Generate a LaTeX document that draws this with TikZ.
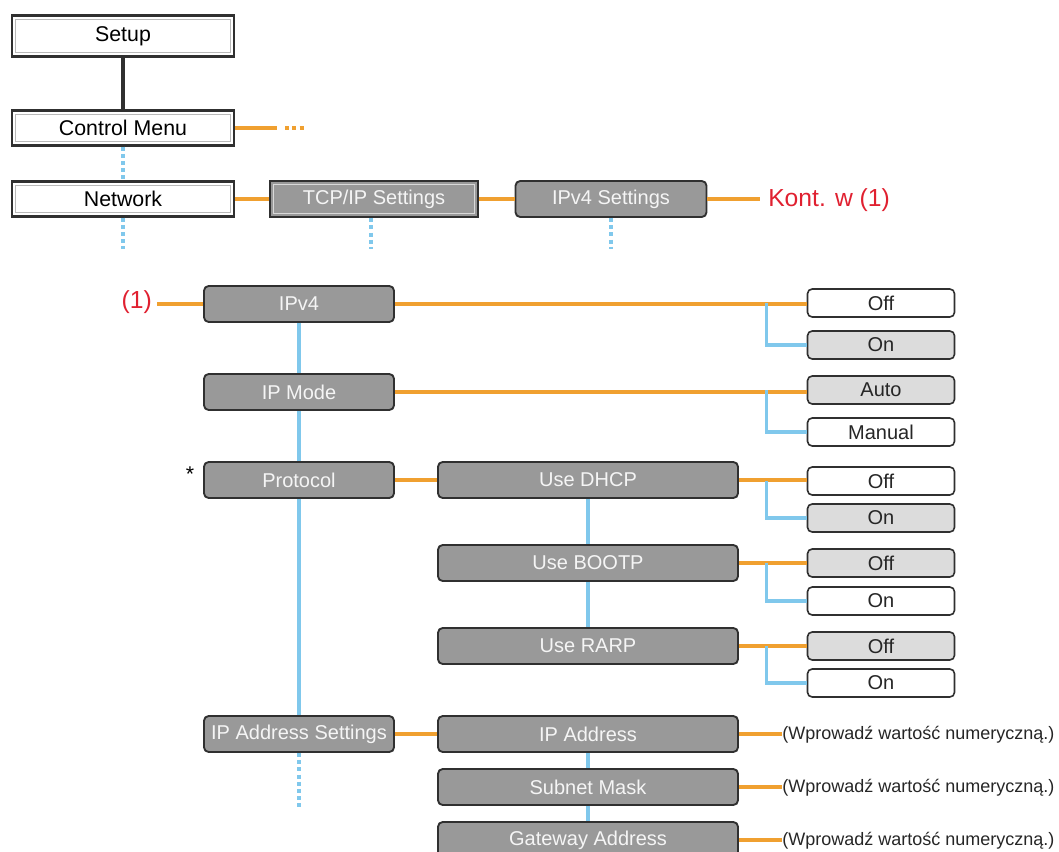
\documentclass[tikz,border=0pt]{standalone}
\usepackage{fontspec}
\setmainfont{Liberation Sans}
\usepackage{xcolor}
\usetikzlibrary{positioning,calc}

\definecolor{boxgray}{HTML}{999999}
\definecolor{boxedge}{HTML}{303030}
\definecolor{optgray}{HTML}{DCDCDC}
\definecolor{lineor}{HTML}{F0A030}
\definecolor{lineblue}{HTML}{80C8EC}
\definecolor{markred}{HTML}{E02030}

\tikzset{
  inner frame/.style={path picture={\draw[#1, line width=1pt]
    ([shift={(2.8pt,-2.8pt)}]path picture bounding box.north west) rectangle
    ([shift={(-2.8pt,2.8pt)}]path picture bounding box.south east);}},
  menubox/.style={draw=boxedge, line width=1.8pt, fill=white, inner frame=gray!55,
    minimum width=166.5pt, minimum height=26.25pt, inner sep=0pt, font=\fontsize{16}{18}\selectfont},
  item/.style={draw=boxedge, line width=1.4pt, fill=boxgray, rounded corners=3.5pt,
    text=white!92!gray, minimum height=27pt, inner sep=0pt, font=\fontsize{15}{17}\selectfont},
  opt/.style={draw=boxedge, line width=1.2pt, fill=white, rounded corners=3.5pt,
    minimum width=110.25pt, minimum height=21pt, inner sep=0pt, text=black!85,
    font=\fontsize{15}{17}\selectfont},
  sel/.style={opt, fill=optgray},
  note/.style={anchor=west, inner sep=0pt, font=\fontsize{13.5}{15}\selectfont, text=black!85},
  redtxt/.style={text=markred, inner sep=0pt, font=\fontsize{18.5}{20}\selectfont},
  og/.style={draw=lineor, line width=2.6pt},
  bl/.style={draw=lineblue, line width=2.6pt},
  bldot/.style={bl, dash pattern=on 3pt off 2.4pt}
}

\begin{document}
\begin{tikzpicture}[x=0.75pt, y=-0.75pt]
\useasboundingbox (0,0) rectangle (1059,852);

% Menu path
\node[menubox, minimum height=30.75pt] (setup) at (123,36) {Setup};
\node[menubox] (ctrl) at (123,128) {Control Menu};
\node[menubox] (net) at (123,199) {Network};
\node[item, rounded corners=0pt, line width=1.8pt, inner frame=gray!30, minimum width=156pt] (tcpip) at (374,199) {TCP/IP Settings};
\node[item, minimum width=143.25pt] (ipv4set) at (611,199) {IPv4 Settings};
\node[redtxt, anchor=west] (kont) at (768,200) {Kont. w (1)};

\draw[boxedge, line width=2.6pt] (setup) -- (ctrl);
\draw[og] (ctrl.east) -- ++(42,0);
\draw[og, dash pattern=on 3pt off 2.4pt] (ctrl.east) ++(50,0) -- ++(20,0);
\draw[bldot] (ctrl) -- (net);
\draw[bldot] (net.south) -- ++(0,31);
\draw[og] (net) -- (tcpip);
\draw[bldot] (tcpip.south) ++(-3,0) -- ++(0,31);
\draw[og] (tcpip) -- (ipv4set);
\draw[bldot] (ipv4set.south) -- ++(0,31);
\draw[og] (ipv4set.east) -- ([xshift=-6pt]ipv4set.east -| kont.west);

% IPv4 Settings submenu
\node[redtxt, anchor=east] (one) at (152,302) {(1)};
\node[item, minimum width=142.5pt] (ipv4) at (299,304) {IPv4};
\node[item, minimum width=142.5pt] (ipmode) at (299,392) {IP Mode};
\node[item, minimum width=142.5pt] (proto) at (299,480) {Protocol};
\node[item, minimum width=142.5pt] (ipaddrset) at (299,734) {IP Address Settings};
\node[inner sep=0pt, font=\fontsize{16}{18}\selectfont] (star) at (190,474) {*};

\draw[og] (ipv4.west) -- ([xshift=4pt]ipv4.west -| one.east);
\draw[bl] (ipv4) -- (ipmode);
\draw[bl] (ipmode) -- (proto);
\draw[bl] (proto) -- (ipaddrset);
\draw[bldot] (ipaddrset.south) -- ++(0,54);

% Options
\node[opt] (off1) at (881,303) {Off};
\node[sel] (on1) at (881,345) {On};
\node[sel] (auto) at (881,390) {Auto};
\node[opt] (manual) at (881,432) {Manual};

\draw[og] (ipv4.east) -- (ipv4.east -| off1.west);
\draw[bl] (off1.west) ++(-40,0) |- (on1.west);
\draw[og] (ipmode.east) -- (ipmode.east -| auto.west);
\draw[bl] (auto.west) ++(-40,0) |- (manual.west);

% Protocol
\node[item, minimum width=225pt] (dhcp) at (588,480) {Use DHCP};
\node[item, minimum width=225pt] (bootp) at (588,563) {Use BOOTP};
\node[item, minimum width=225pt] (rarp) at (588,646) {Use RARP};
\node[opt] (off2) at (881,481) {Off};
\node[sel] (on2) at (881,518) {On};
\node[sel] (off3) at (881,563) {Off};
\node[opt] (on3) at (881,601) {On};
\node[sel] (off4) at (881,646) {Off};
\node[opt] (on4) at (881,683) {On};

\draw[og] (proto) -- (dhcp);
\draw[bl] (dhcp) -- (bootp);
\draw[bl] (bootp) -- (rarp);
\draw[og] (dhcp.east) -- (dhcp.east -| off2.west);
\draw[bl] (off2.west) ++(-40,0) |- (on2.west);
\draw[og] (bootp.east) -- (bootp.east -| off3.west);
\draw[bl] (off3.west) ++(-40,0) |- (on3.west);
\draw[og] (rarp.east) -- (rarp.east -| off4.west);
\draw[bl] (off4.west) ++(-40,0) |- (on4.west);

% IP Address Settings
\node[item, minimum width=225pt] (ipaddr) at (588,734) {IP Address};
\node[item, minimum width=225pt] (mask) at (588,787) {Subnet Mask};
\node[item, minimum width=225pt] (gw) at (588,840) {Gateway Address};
\node[note] (n1) at (782,735) {(Wprowadź wartość numeryczną.)};
\node[note] (n2) at (782,788) {(Wprowadź wartość numeryczną.)};
\node[note] (n3) at (782,841) {(Wprowadź wartość numeryczną.)};

\draw[og] (ipaddrset) -- (ipaddr);
\draw[bl] (ipaddr) -- (mask);
\draw[bl] (mask) -- (gw);
\draw[og] (ipaddr.east) -- (ipaddr.east -| n1.west);
\draw[og] (mask.east) -- (mask.east -| n2.west);
\draw[og] (gw.east) -- (gw.east -| n3.west);

\end{tikzpicture}
\end{document}
